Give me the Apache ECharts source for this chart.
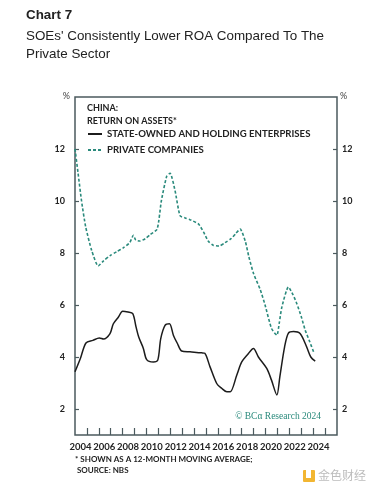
<!DOCTYPE html>
<html>
<head>
<meta charset="utf-8">
<style>html,body{margin:0;padding:0;background:#fff;}#chart{width:379px;height:492px;}</style>
<script src="https://cdn.jsdelivr.net/npm/echarts@6/dist/echarts.min.js"></script>
</head>
<body>
<div id="chart"></div>
<script>
// Data (year as decimal, value in %)
const soeYears = [2003.0,2003.45,2003.92,2004.5,2005.04,2005.4,2005.94,2006.22,2006.65,2007.0,2007.45,2007.85,2008.13,2008.35,2008.74,2009.02,2009.58,2009.95,2010.2,2010.56,2010.93,2011.26,2011.6,2011.96,2012.66,2013.64,2013.9,2014.34,2014.9,2015.3,2015.75,2016.03,2016.58,2017.0,2017.5,2017.98,2018.4,2019.1,2019.5,2019.95,2020.2,2020.6,2020.92,2021.35,2021.9,2022.45,2022.8,2023.17];
const soeValues = [3.43,3.94,4.54,4.64,4.73,4.69,4.9,5.28,5.54,5.76,5.73,5.67,5.15,4.77,4.33,3.9,3.81,3.88,4.71,5.22,5.28,4.84,4.52,4.23,4.2,4.16,4.14,3.62,2.98,2.8,2.66,2.66,3.3,3.81,4.1,4.33,4.0,3.56,3.11,2.54,3.24,4.39,4.92,4.98,4.9,4.39,4.0,3.84];
const pvtYears = [2003.0,2003.25,2003.55,2003.9,2004.4,2004.95,2005.4,2005.95,2006.5,2007.05,2007.6,2007.9,2008.1,2008.45,2008.9,2009.3,2009.9,2010.25,2010.7,2010.98,2011.4,2011.82,2012.25,2012.66,2013.36,2013.8,2014.2,2014.6,2015.1,2015.6,2016.1,2016.5,2016.87,2017.3,2017.6,2018.0,2018.55,2018.96,2019.5,2019.95,2020.15,2020.37,2020.92,2021.3,2021.63,2022.0,2022.33,2022.7,2023.03];
const pvtValues = [12.0,11.1,10.0,9.0,8.1,7.5,7.7,7.9,8.05,8.2,8.4,8.68,8.5,8.46,8.55,8.7,8.92,10.0,10.95,11.07,10.4,9.43,9.35,9.28,9.12,8.8,8.45,8.3,8.27,8.4,8.55,8.75,8.92,8.45,7.85,7.2,6.6,6.0,5.1,4.84,5.3,5.92,6.69,6.4,6.05,5.55,5.03,4.6,4.2];
const yearTicks = [2004,2005,2006,2007,2008,2009,2010,2011,2012,2013,2014,2015,2016,2017,2018,2019,2020,2021,2022,2023,2024];
const yearLabels = [2004,2006,2008,2010,2012,2014,2016,2018,2020,2022,2024];
const yTicks = [2,4,6,8,10,12];
const seriesNames = ['STATE-OWNED AND HOLDING ENTERPRISES','PRIVATE COMPANIES'];

const zip = (xs, ys) => xs.map((x, i) => [x, ys[i]]);
const FRAME = '#4b5a5e';
const TEAL = '#2a8a7c';
const FONT = 'Lato, "Open Sans", sans-serif';
const SANS = '"Liberation Sans", Arial, sans-serif';

const chart = echarts.init(document.getElementById('chart'), null, {renderer: 'canvas'});
const yAxisBase = {
  type: 'value', min: 1, max: 14,
  axisLine: {show: false},
  splitLine: {show: false},
  axisTick: {show: true, inside: true, length: 4, lineStyle: {color: FRAME, width: 1.2}, customValues: yTicks},
  axisLabel: {customValues: yTicks, color: '#222', fontFamily: FONT, fontWeight: 'bold', fontSize: 9},
  name: '%', nameLocation: 'end', nameGap: 1,
  nameTextStyle: {color: '#444', fontFamily: FONT, fontSize: 9, verticalAlign: 'middle'}
};
chart.setOption({
  animation: false,
  title: [
    {text: 'Chart 7', left: 26, top: 9, padding: 0, textStyle: {fontFamily: SANS, fontSize: 13.4, fontWeight: 'bold', color: '#222'}},
    {text: "SOEs' Consistently Lower ROA Compared To The\nPrivate Sector", left: 26, top: 27, padding: 0, textStyle: {fontFamily: SANS, fontSize: 13.4, fontWeight: 'normal', color: '#222', lineHeight: 18}},
    {text: 'CHINA:\nRETURN ON ASSETS*', left: 87, top: 102, padding: 0, textStyle: {fontFamily: FONT, fontSize: 9, fontWeight: 'bold', color: '#222', lineHeight: 13}},
    {text: '* SHOWN AS A 12-MONTH MOVING AVERAGE;\n SOURCE: NBS', left: 75, top: 454, padding: 0, textStyle: {fontFamily: FONT, fontSize: 8, fontWeight: 'bold', color: '#222', lineHeight: 11}}
  ],
  legend: {
    orient: 'vertical', left: 87, top: 129, padding: 0, itemWidth: 14, itemHeight: 8, itemGap: 6,
    data: seriesNames,
    itemStyle: {color: 'transparent', borderWidth: 0},
    textStyle: {fontFamily: FONT, fontSize: 9.6, fontWeight: 'bold', color: '#222'},
    selectedMode: false
  },
  grid: {left: 75, right: 42, top: 97, bottom: 57, show: true, borderColor: FRAME, borderWidth: 1.5, containLabel: false},
  xAxis: {
    type: 'value', min: 2003, max: 2025,
    axisLine: {show: false}, splitLine: {show: false},
    axisTick: {show: true, inside: true, length: 7, customValues: yearTicks, lineStyle: {color: FRAME, width: 1.2}},
    axisLabel: {customValues: yearLabels, formatter: v => String(v), margin: 7, padding: [0, 13, 0, 0],
      color: '#222', fontFamily: FONT, fontWeight: 'bold', fontSize: 9.5}
  },
  yAxis: [
    Object.assign({}, yAxisBase, {position: 'left', axisLabel: Object.assign({}, yAxisBase.axisLabel, {margin: 10}),
      nameTextStyle: Object.assign({}, yAxisBase.nameTextStyle, {align: 'right', padding: [0, 5, 0, 0]})}),
    Object.assign({}, yAxisBase, {position: 'right', axisLabel: Object.assign({}, yAxisBase.axisLabel, {margin: 5}),
      nameTextStyle: Object.assign({}, yAxisBase.nameTextStyle, {align: 'left', padding: [0, 0, 0, 3]})})
  ],
  series: [
    {name: seriesNames[0], type: 'line', data: zip(soeYears, soeValues), showSymbol: false, symbol: 'none', smooth: 0.3,
      lineStyle: {color: '#1c1c1c', width: 1.5}, itemStyle: {color: '#1c1c1c'}},
    {name: seriesNames[1], type: 'line', data: zip(pvtYears, pvtValues), showSymbol: false, symbol: 'none', smooth: 0.2,
      lineStyle: {color: TEAL, width: 1.6, type: [3, 2]}, itemStyle: {color: TEAL}}
  ],
  graphic: [
    {type: 'text', right: 58, top: 411, style: {text: '© BCα Research 2024', fill: TEAL, font: '9.5px "Liberation Serif", "DejaVu Serif", serif'}},
    {type: 'rect', left: 303, top: 470, shape: {width: 12, height: 12, r: 1}, style: {fill: '#f2b632'}},
    {type: 'rect', left: 306, top: 470, shape: {width: 5, height: 8}, style: {fill: '#fff'}},
    {type: 'text', left: 318, top: 469, style: {text: '金色财经', fill: '#bdbdbd', font: '12px "Noto Sans CJK SC", sans-serif'}}
  ]
});
</script>
</body>
</html>
